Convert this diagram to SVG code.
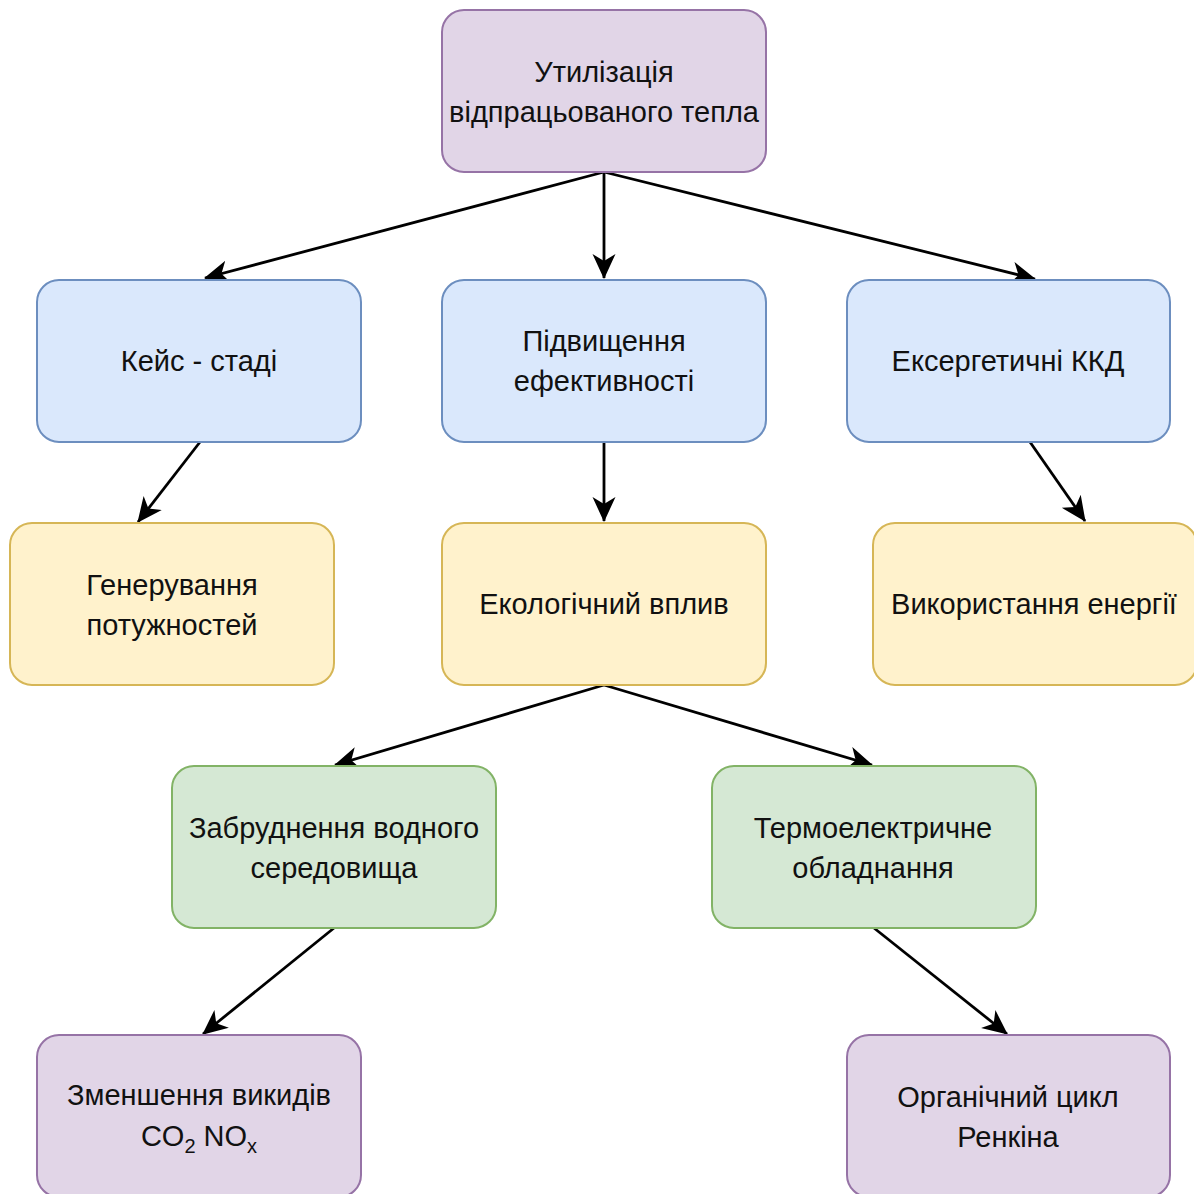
<svg xmlns="http://www.w3.org/2000/svg" width="1194" height="1194" viewBox="0 0 1194 1194">
<style>
.n rect{stroke-width:2}
.p rect{fill:#e1d5e7;stroke:#9673a6}
.b rect{fill:#dae8fc;stroke:#6c8ebf}
.y rect{fill:#fff2cc;stroke:#d6b656}
.g rect{fill:#d5e8d4;stroke:#82b366}
text{font-family:"Liberation Sans",Arial,sans-serif;font-size:29px;fill:#111;text-anchor:middle}
.e line{stroke:#000;stroke-width:2.8;marker-end:url(#ah)}
</style>
<defs>
<marker id="ah" markerUnits="userSpaceOnUse" markerWidth="26" markerHeight="26" viewBox="0 0 26 26" refX="24" refY="13" orient="auto">
<path d="M0,1.5 L25,13 L0,24.5 L7,13 z" fill="#000"/>
</marker>
</defs>
<rect width="1194" height="1194" fill="#fff"/>
<g class="e">
<line x1="604" y1="172" x2="205" y2="278"/>
<line x1="604" y1="172" x2="604" y2="278"/>
<line x1="604" y1="172" x2="1035" y2="279"/>
<line x1="200" y1="442" x2="138" y2="522"/>
<line x1="604" y1="442" x2="604" y2="521"/>
<line x1="1030" y1="442" x2="1085" y2="521"/>
<line x1="604" y1="685" x2="335" y2="765"/>
<line x1="604" y1="685" x2="872" y2="765"/>
<line x1="334" y1="928" x2="203" y2="1034"/>
<line x1="874" y1="928" x2="1007" y2="1034"/>
</g>
<g id="n1" class="n p"><rect x="442" y="10" width="324" height="162" rx="22"/><text x="604" y="82">Утилізація</text><text x="604" y="122">відпрацьованого тепла</text></g>
<g id="n2" class="n b"><rect x="37" y="280" width="324" height="162" rx="22"/><text x="199" y="371">Кейс - стаді</text></g>
<g id="n3" class="n b"><rect x="442" y="280" width="324" height="162" rx="22"/><text x="604" y="351">Підвищення</text><text x="604" y="391">ефективності</text></g>
<g id="n4" class="n b"><rect x="847" y="280" width="323" height="162" rx="22"/><text x="1008" y="371">Ексергетичні ККД</text></g>
<g id="n5" class="n y"><rect x="10" y="523" width="324" height="162" rx="22"/><text x="172" y="595">Генерування</text><text x="172" y="635">потужностей</text></g>
<g id="n6" class="n y"><rect x="442" y="523" width="324" height="162" rx="22"/><text x="604" y="614">Екологічний вплив</text></g>
<g id="n7" class="n y"><rect x="873" y="523" width="324" height="162" rx="22"/><text x="1034" y="614">Використання енергії</text></g>
<g id="n8" class="n g"><rect x="172" y="766" width="324" height="162" rx="22"/><text x="334" y="838">Забруднення водного</text><text x="334" y="878">середовища</text></g>
<g id="n9" class="n g"><rect x="712" y="766" width="324" height="162" rx="22"/><text x="873" y="838">Термоелектричне</text><text x="873" y="878">обладнання</text></g>
<g id="n10" class="n p"><rect x="37" y="1035" width="324" height="162" rx="22"/><text x="199" y="1105">Зменшення викидів</text><text x="199" y="1146">CO<tspan font-size="20" dy="7">2</tspan><tspan dy="-7"> NO</tspan><tspan font-size="20" dy="7">x</tspan></text></g>
<g id="n11" class="n p"><rect x="847" y="1035" width="323" height="162" rx="22"/><text x="1008" y="1107">Органічний цикл</text><text x="1008" y="1147">Ренкіна</text></g>
</svg>
